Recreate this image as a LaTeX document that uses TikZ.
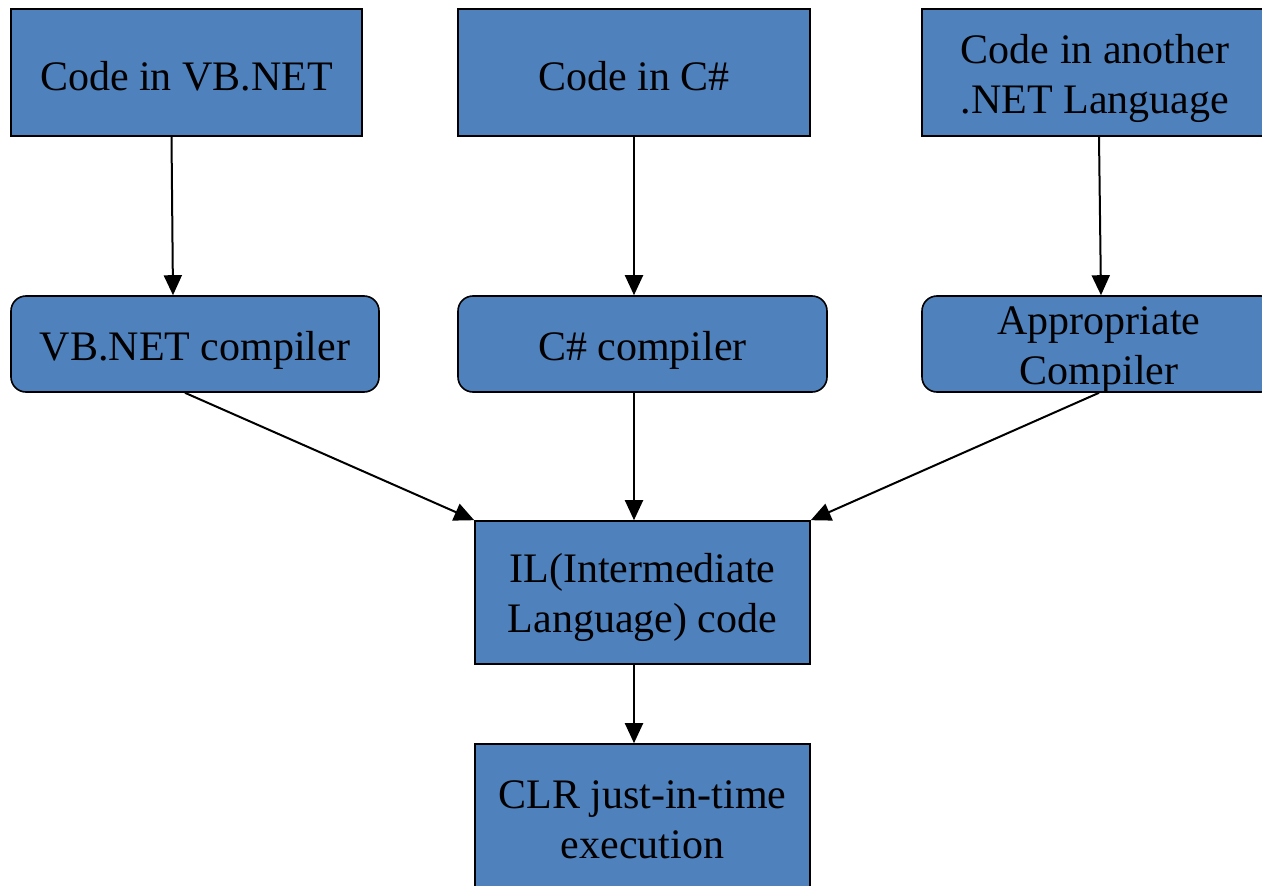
\documentclass[tikz,border=0pt]{standalone}
\usepackage{fontspec}
\setmainfont{Liberation Serif}
\usetikzlibrary{arrows.meta}
\definecolor{boxblue}{HTML}{4F81BD}
\begin{document}
\begin{tikzpicture}[x=1pt,y=-1pt,
  box/.style={draw=black,fill=boxblue,line width=2pt,inner sep=0pt},
  rbox/.style={box,rounded corners=15pt,line width=1.6pt},
  txt/.style={inner sep=0pt,align=center,font=\fontsize{42}{50}\selectfont},
  arr/.style={line width=2pt,-{Triangle[length=20pt,width=18pt]}}]
\useasboundingbox (0,0) rectangle (1262,886);
\node[box,minimum width=351pt,minimum height=127pt] (t1) at (186.5,72.5) {};
\node[box,minimum width=352pt,minimum height=127pt] (t2) at (634,72.5) {};
\node[box,minimum width=346pt,minimum height=127pt] (t3) at (1095,72.5) {};
\node[rbox,minimum width=368pt,minimum height=96pt] (m1) at (195,344) {};
\node[rbox,minimum width=369pt,minimum height=96pt] (m2) at (642.5,344) {};
\node[rbox,minimum width=354pt,minimum height=96pt] (m3) at (1099,344) {};
\node[box,line width=1.6pt,minimum width=335pt,minimum height=143pt] (il) at (642.5,592.5) {};
\node[box,line width=1.6pt,minimum width=335pt,minimum height=152pt] (clr) at (642.5,820) {};
\node[txt] (t1t) at ([yshift=-4pt]t1.center) {Code in VB.NET};
\node[txt] (t2t) at ([yshift=-4pt]t2.center) {Code in C\#};
\node[txt] (t3t) at ([yshift=-6pt]t3.center) {Code in another\\.NET Language};
\node[txt] (m1t) at ([yshift=-6pt]m1.center) {VB.NET compiler};
\node[txt] (m2t) at ([yshift=-6pt]m2.center) {C\# compiler};
\node[txt] (m3t) at ([yshift=-6pt]m3.center) {Appropriate\\Compiler};
\node[txt] (ilt) at ([yshift=-5pt]il.center) {IL(Intermediate\\Language) code};
\node[txt] (clrt) at (clr.center) {CLR just-in-time\\execution};
\draw[arr] ([xshift=-15pt]t1.south) -- ([xshift=-22pt]m1.north);
\draw[arr] (t2.south) -- ([xshift=-8.5pt]m2.north);
\draw[arr] ([xshift=4pt]t3.south) -- ([xshift=2pt]m3.north);
\draw[arr] ([xshift=-10pt]m1.south) -- (il.north west);
\draw[arr] ([xshift=-8.5pt]m2.south) -- ([xshift=-8.5pt]il.north);
\draw[arr] (m3.south) -- (il.north east);
\draw[arr] ([xshift=-8.5pt]il.south) -- ([xshift=-8.5pt]clr.north);
\end{tikzpicture}
\end{document}
